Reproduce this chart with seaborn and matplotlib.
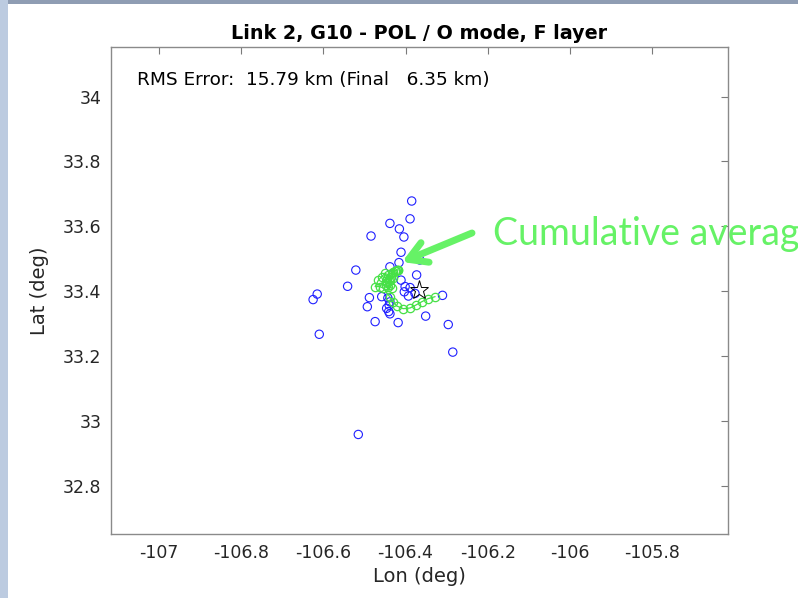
import numpy as np
import pandas as pd
import matplotlib
matplotlib.use("Agg")
import matplotlib.pyplot as plt
from matplotlib.patches import Rectangle
import seaborn as sns

# ---- data -------------------------------------------------------------
blue_lon = [-106.385, -106.389, -106.438, -106.415, -106.404, -106.484, -106.411,
            -106.416, -106.365, -106.521, -106.438, -106.373, -106.541, -106.411,
            -106.615, -106.625, -106.488, -106.458, -106.389, -106.393, -106.493,
            -106.310, -106.441, -106.438, -106.351, -106.474, -106.418, -106.296,
            -106.610, -106.285, -106.515, -106.401, -106.403, -106.377, -106.443,
            -106.438, -106.440, -106.446]
blue_lat = [33.678, 33.623, 33.609, 33.592, 33.567, 33.570, 33.520,
            33.488, 33.496, 33.465, 33.475, 33.450, 33.415, 33.434,
            33.391, 33.374, 33.380, 33.383, 33.411, 33.385, 33.352,
            33.387, 33.337, 33.330, 33.323, 33.306, 33.303, 33.297,
            33.267, 33.212, 32.958, 33.414, 33.398, 33.393, 33.379,
            33.367, 33.357, 33.347]

avg_lon = [-106.328, -106.345, -106.361, -106.375, -106.389, -106.406, -106.421,
           -106.430, -106.438, -106.454, -106.462, -106.474, -106.466, -106.458,
           -106.450, -106.442, -106.446, -106.438, -106.434, -106.442, -106.448,
           -106.444, -106.440, -106.438, -106.446, -106.430, -106.436, -106.434,
           -106.430, -106.426, -106.424, -106.421, -106.419, -106.418]
avg_lat = [33.383, 33.377, 33.367, 33.357, 33.348, 33.346, 33.354,
           33.367, 33.382, 33.409, 33.414, 33.414, 33.434, 33.445,
           33.455, 33.450, 33.429, 33.419, 33.409, 33.414, 33.420,
           33.425, 33.430, 33.434, 33.438, 33.440, 33.445, 33.455,
           33.458, 33.462, 33.463, 33.465, 33.466, 33.465]

truth_lon = [-106.367]
truth_lat = [33.404]

x_ticks = [-107, -106.8, -106.6, -106.4, -106.2, -106, -105.8]
y_ticks = [32.8, 33, 33.2, 33.4, 33.6, 33.8, 34]
x_lim = [-107.117, -105.615]
y_lim = [32.651, 34.153]

title = "Link 2, G10 - POL / O mode, F layer"
rms_text = "RMS Error:  15.79 km (Final   6.35 km)"
annot_text = "Cumulative average"
x_label = "Lon (deg)"
y_label = "Lat (deg)"

blue_df = pd.DataFrame({"lon": blue_lon, "lat": blue_lat})
avg_df = pd.DataFrame({"lon": avg_lon, "lat": avg_lat})

# ---- style ------------------------------------------------------------
sns.set_style("white")
plt.rcParams["font.family"] = ["DejaVu Sans"]
plt.rcParams["axes.unicode_minus"] = False

fig = plt.figure(figsize=(7.98, 5.98), dpi=100)
fig.patch.set_facecolor("white")
# window frame remnants of the screenshot
fig.patches.append(Rectangle((0, 1 - 4 / 598), 1, 4 / 598, transform=fig.transFigure,
                             facecolor="#8f9db3", edgecolor="none", zorder=0))
fig.patches.append(Rectangle((0, 0), 8 / 798, 1, transform=fig.transFigure,
                             facecolor="#bccbe0", edgecolor="none", zorder=0))

ax = fig.add_axes([111 / 798, 1 - 534 / 598, (728 - 111) / 798, (534 - 47) / 598])

green = "#46e046"
sns.scatterplot(data=blue_df, x="lon", y="lat", ax=ax, marker="o", s=36,
                facecolors="none", edgecolor="#2020ff", linewidth=0.8, zorder=3)
sns.lineplot(data=avg_df, x="lon", y="lat", ax=ax, sort=False, estimator=None,
             color=green, lw=0.9, marker="o", markersize=6.0,
             markerfacecolor="none", markeredgecolor=green, markeredgewidth=0.9,
             zorder=4)
ax.plot(truth_lon, truth_lat, linestyle="none", marker="*", markersize=14,
        markerfacecolor="none", markeredgecolor="black", markeredgewidth=0.7, zorder=5)

ax.set_xlim(x_lim)
ax.set_ylim(y_lim)
ax.set_xticks(x_ticks)
ax.set_yticks(y_ticks)
ax.set_xticklabels([f"{v:g}" for v in x_ticks])
ax.set_yticklabels([f"{v:g}" for v in y_ticks])
ax.tick_params(direction="in", length=5, width=0.8, colors="#7a7a7a",
               labelcolor="#262626", labelsize=12.5, top=True, right=True,
               pad=7)
for s in ax.spines.values():
    s.set_color("#8a8a8a")
    s.set_linewidth(1.0)

ax.set_xlabel(x_label, fontsize=14, color="#262626", labelpad=4)
ax.set_ylabel(y_label, fontsize=14, color="#262626", labelpad=10)
ax.set_title(title, fontsize=13.8, fontweight="bold", color="black", pad=6)

ax.text(0.042, 0.932, rms_text, transform=ax.transAxes, fontsize=13.3,
        color="black", va="center", ha="left")

# overlay annotation (PowerPoint style)
fig.text(493 / 798, 1 - 245 / 598, annot_text, fontsize=27, color="#66f266",
         family=["Lato", "DejaVu Sans"], va="baseline", ha="left")
ax.annotate("", xy=(402 / 798, 1 - 262 / 598), xycoords="figure fraction",
            xytext=(472 / 798, 1 - 233 / 598), textcoords="figure fraction",
            arrowprops=dict(arrowstyle="->,head_length=0.65,head_width=0.38",
                            lw=5, color="#66f266", mutation_scale=20,
                            shrinkA=0, shrinkB=0), zorder=6)

fig.savefig("out.png", dpi=100)
